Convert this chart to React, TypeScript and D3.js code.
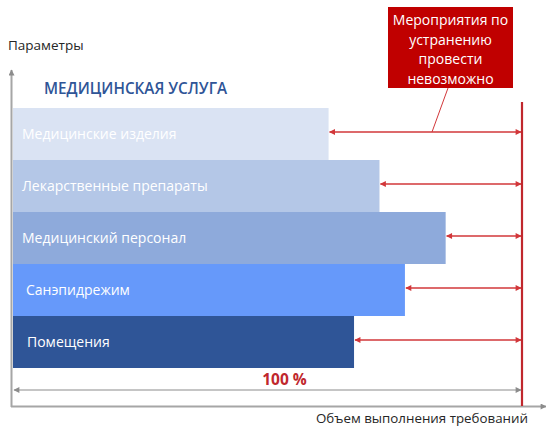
import { useEffect, useRef } from "react";
import * as d3 from "d3";

const CATEGORIES = [
  "Медицинские изделия",
  "Лекарственные препараты",
  "Медицинский персонал",
  "Санэпидрежим",
  "Помещения",
];
const VALUES = [62, 72, 85, 77, 67];
const BAR_COLORS = ["#dae3f3", "#b4c7e7", "#8eaadb", "#6699fa", "#2f5597"];
const LABEL_OFFSETS = [9, 9, 9, 13, 14];
const CALLOUT_LINES = ["Мероприятия по", "устранению", "провести", "невозможно"];

const W = 546;
const H = 429;
const FONT = "'Open Sans', 'DejaVu Sans', sans-serif";

export default function App() {
  const svgRef = useRef<SVGSVGElement>(null);

  useEffect(() => {
    if (!svgRef.current) return;
    const svg = d3.select(svgRef.current);
    svg.selectAll("*").remove();

    const x = d3.scaleLinear().domain([0, 100]).range([13, 522]);
    const y = d3.scaleBand().domain(CATEGORIES).range([108, 368]).padding(0);

    const defs = svg.append("defs");
    const marker = (id: string, color: string, w: number, h: number) => {
      defs
        .append("marker")
        .attr("id", id)
        .attr("viewBox", "0 0 10 10")
        .attr("refX", 9)
        .attr("refY", 5)
        .attr("markerWidth", w)
        .attr("markerHeight", h)
        .attr("markerUnits", "userSpaceOnUse")
        .attr("orient", "auto-start-reverse")
        .append("path")
        .attr("d", "M0,0 L10,5 L0,10 Z")
        .attr("fill", color);
    };
    marker("redArrow", "#d2373a", 7, 6);
    marker("grayArrow", "#8c8c8c", 7, 6);

    // axes
    svg
      .append("line")
      .attr("x1", 11.5).attr("x2", 11.5)
      .attr("y1", 407).attr("y2", 70)
      .attr("stroke", "#a6a6a6").attr("stroke-width", 2)
      .attr("marker-end", "url(#grayArrow)");
    svg
      .append("line")
      .attr("x1", 11).attr("x2", 546)
      .attr("y1", 406.5).attr("y2", 406.5)
      .attr("stroke", "#a6a6a6").attr("stroke-width", 2)
      .attr("marker-end", "url(#grayArrow)");

    svg
      .append("text")
      .attr("x", 8).attr("y", 50)
      .attr("font-family", FONT).attr("font-size", 13.5)
      .attr("fill", "#262626")
      .text("Параметры");
    svg
      .append("text")
      .attr("x", 316).attr("y", 423)
      .attr("font-family", FONT).attr("font-size", 13)
      .attr("fill", "#262626")
      .attr("textLength", 212).attr("lengthAdjust", "spacingAndGlyphs")
      .text("Объем выполнения требований");

    svg
      .append("text")
      .attr("x", 44).attr("y", 94)
      .attr("font-family", FONT).attr("font-size", 15.5)
      .attr("font-weight", 600)
      .attr("fill", "#2f5597")
      .attr("textLength", 183).attr("lengthAdjust", "spacingAndGlyphs")
      .text("МЕДИЦИНСКАЯ УСЛУГА");

    // bars
    CATEGORIES.forEach((c, i) => {
      svg
        .append("rect")
        .attr("x", x(0))
        .attr("y", y(c)!)
        .attr("width", x(VALUES[i]) - x(0))
        .attr("height", y.bandwidth())
        .attr("fill", BAR_COLORS[i]);
      svg
        .append("text")
        .attr("x", x(0) + LABEL_OFFSETS[i])
        .attr("y", y(c)! + y.bandwidth() / 2)
        .attr("dy", "0.35em")
        .attr("font-family", FONT)
        .attr("font-size", 14)
        .attr("fill", "#ffffff")
        .text(c);
      // gap arrows
      svg
        .append("line")
        .attr("x1", x(VALUES[i]) + 1)
        .attr("x2", x(100) - 1)
        .attr("y1", y(c)! + y.bandwidth() / 2 - 2)
        .attr("y2", y(c)! + y.bandwidth() / 2 - 2)
        .attr("stroke", "#d2373a")
        .attr("stroke-width", 1.5)
        .attr("marker-start", "url(#redArrow)")
        .attr("marker-end", "url(#redArrow)");
    });

    // 100% limit line
    svg
      .append("line")
      .attr("x1", x(100)).attr("x2", x(100))
      .attr("y1", 102).attr("y2", 406)
      .attr("stroke", "#c0272d").attr("stroke-width", 2.2);

    // 100% dimension
    svg
      .append("line")
      .attr("x1", x(0) + 1).attr("x2", x(100) - 1)
      .attr("y1", 390).attr("y2", 390)
      .attr("stroke", "#8c8c8c").attr("stroke-width", 1.2)
      .attr("marker-start", "url(#grayArrow)")
      .attr("marker-end", "url(#grayArrow)");
    svg
      .append("text")
      .attr("x", 284.5).attr("y", 385)
      .attr("text-anchor", "middle")
      .attr("font-family", FONT).attr("font-size", 15.5)
      .attr("font-weight", 700)
      .attr("fill", "#c0272d")
      .text("100 %");

    // callout
    const firstMid = y(CATEGORIES[0])! + y.bandwidth() / 2 - 2;
    svg
      .append("line")
      .attr("x1", 448).attr("y1", 88)
      .attr("x2", 432).attr("y2", firstMid)
      .attr("stroke", "#d2373a").attr("stroke-width", 1);
    svg
      .append("rect")
      .attr("x", 388).attr("y", 7)
      .attr("width", 125).attr("height", 81)
      .attr("fill", "#c00000");
    CALLOUT_LINES.forEach((t, i) => {
      svg
        .append("text")
        .attr("x", 450.5)
        .attr("y", 25 + i * 19.5)
        .attr("text-anchor", "middle")
        .attr("font-family", FONT)
        .attr("font-size", 14)
        .attr("fill", "#ffffff")
        .text(t);
    });
  }, []);

  return (
    <svg
      ref={svgRef}
      width={W}
      height={H}
      style={{ position: "absolute", left: 0, top: 0, background: "#fff" }}
    />
  );
}
